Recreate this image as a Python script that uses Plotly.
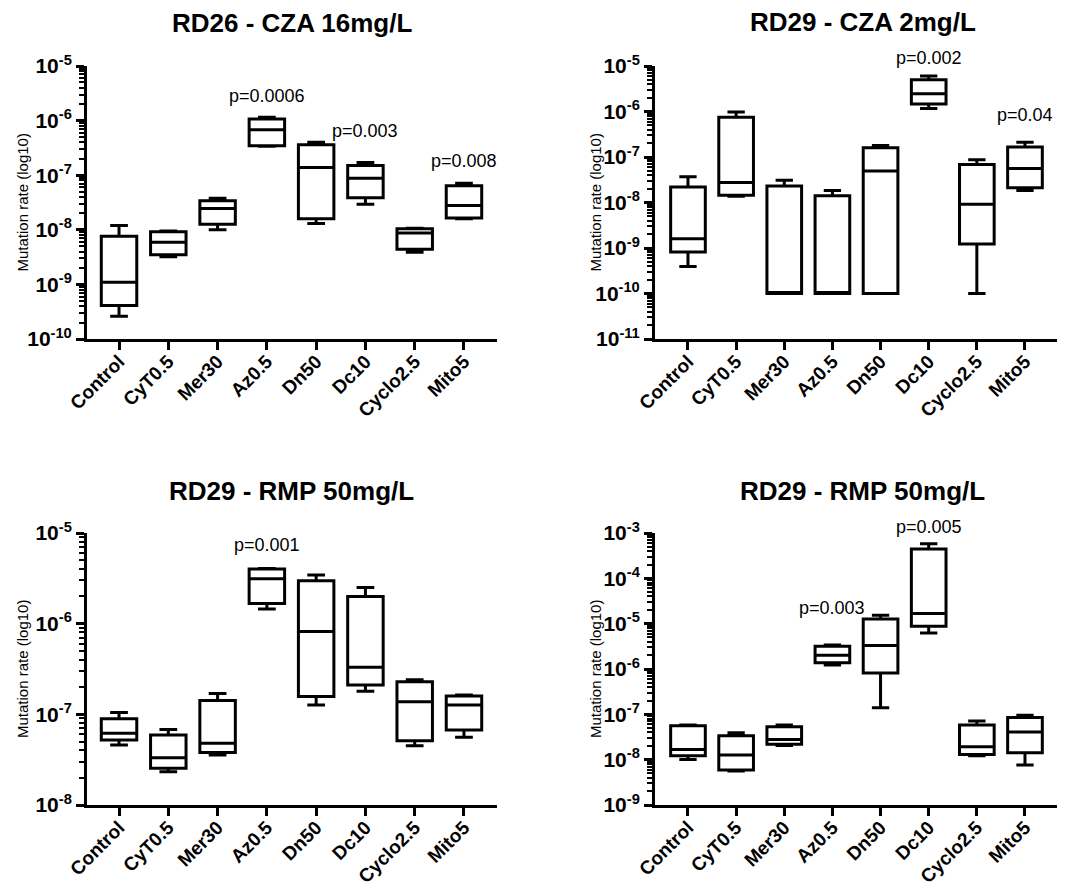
import math
import plotly.graph_objects as go

categories = ["Control", "CyT0.5", "Mer30", "Az0.5", "Dn50", "Dc10", "Cyclo2.5", "Mito5"]

# Panel A: RD26 - CZA 16mg/L
a_min = [2.6e-10, 3.2e-9, 1.0e-8, 3.4e-7, 1.3e-8, 2.95e-8, 3.9e-9, 1.6e-8]
a_q1 = [4.1e-10, 3.5e-9, 1.27e-8, 3.45e-7, 1.6e-8, 3.85e-8, 4.4e-9, 1.65e-8]
a_med = [1.1e-9, 5.9e-9, 2.45e-8, 6.8e-7, 1.38e-7, 8.8e-8, 8.7e-9, 2.8e-8]
a_q3 = [7.6e-9, 9.2e-9, 3.4e-8, 1.07e-6, 3.6e-7, 1.5e-7, 1.04e-8, 6.4e-8]
a_max = [1.2e-8, 9.5e-9, 3.8e-8, 1.15e-6, 4.0e-7, 1.7e-7, 1.07e-8, 7.1e-8]

# Panel B: RD29 - CZA 2mg/L
b_min = [3.9e-10, 1.38e-8, 1e-10, 1e-10, 1e-10, 1.16e-6, 1e-10, 1.83e-8]
b_q1 = [8.2e-10, 1.45e-8, 1e-10, 1e-10, 1e-10, 1.47e-6, 1.22e-9, 2.1e-8]
b_med = [1.6e-9, 2.74e-8, 1e-10, 1e-10, 4.9e-8, 2.44e-6, 9.2e-9, 5.6e-8]
b_q3 = [2.2e-8, 7.5e-7, 2.3e-8, 1.4e-8, 1.6e-7, 5.0e-6, 6.8e-8, 1.66e-7]
b_max = [3.7e-8, 9.7e-7, 3.1e-8, 1.83e-8, 1.78e-7, 6.0e-6, 8.7e-8, 2.1e-7]

# Panel C: RD29 - RMP 50mg/L
c_min = [4.6e-8, 2.33e-8, 3.55e-8, 1.45e-6, 1.27e-7, 1.8e-7, 4.5e-8, 5.6e-8]
c_q1 = [5.2e-8, 2.54e-8, 3.8e-8, 1.67e-6, 1.57e-7, 2.1e-7, 5.1e-8, 6.7e-8]
c_med = [6.2e-8, 3.33e-8, 4.8e-8, 3.13e-6, 8.2e-7, 3.3e-7, 1.38e-7, 1.27e-7]
c_q3 = [8.95e-8, 5.9e-8, 1.42e-7, 4.0e-6, 2.98e-6, 1.99e-6, 2.29e-7, 1.59e-7]
c_max = [1.05e-7, 6.8e-8, 1.7e-7, 4.05e-6, 3.44e-6, 2.5e-6, 2.4e-7, 1.63e-7]

# Panel D: RD29 - RMP 50mg/L
d_min = [1.01e-8, 5.6e-9, 2.06e-8, 1.23e-6, 1.39e-7, 6.25e-6, 1.22e-8, 7.6e-9]
d_q1 = [1.22e-8, 5.9e-9, 2.2e-8, 1.37e-6, 8.2e-7, 8.8e-6, 1.3e-8, 1.42e-8]
d_med = [1.68e-8, 1.26e-8, 2.79e-8, 2.0e-6, 3.3e-6, 1.67e-5, 1.93e-8, 4.1e-8]
d_q3 = [5.6e-8, 3.37e-8, 5.3e-8, 3.18e-6, 1.27e-5, 4.43e-4, 5.8e-8, 8.5e-8]
d_max = [5.8e-8, 3.9e-8, 5.85e-8, 3.4e-6, 1.53e-5, 5.8e-4, 7.1e-8, 9.6e-8]

titles = ["RD26 - CZA 16mg/L", "RD29 - CZA 2mg/L", "RD29 - RMP 50mg/L", "RD29 - RMP 50mg/L"]
y_exp_ranges = [(-10, -5), (-11, -5), (-8, -5), (-9, -3)]

# p-value labels: (text, category, label height in mutation-rate units)
a_p = [("p=0.0006", "Az0.5", 2.8e-6), ("p=0.003", "Dc10", 6.5e-7), ("p=0.008", "Mito5", 1.8e-7)]
b_p = [("p=0.002", "Dc10", 1.5e-5), ("p=0.04", "Mito5", 8.5e-7)]
c_p = [("p=0.001", "Az0.5", 7.4e-6)]
d_p = [("p=0.003", "Az0.5", 2.2e-5), ("p=0.005", "Dc10", 1.35e-3)]

panels = [
    (a_min, a_q1, a_med, a_q3, a_max, a_p),
    (b_min, b_q1, b_med, b_q3, b_max, b_p),
    (c_min, c_q1, c_med, c_q3, c_max, c_p),
    (d_min, d_q1, d_med, d_q3, d_max, d_p),
]

OFF = 8  # page body margin
W, H = 1073 - OFF, 888 - OFF
# pixel boxes of the plot areas in the window (left, right, top, bottom)
areas = [(87, 497, 66, 339), (655, 1057, 66, 339), (87, 497, 533, 805), (655, 1057, 533, 805)]
xranges = [(-0.65, 7.67), (-0.685, 7.665), (-0.65, 7.67), (-0.685, 7.665)]
title_pos = [(292, 23), (863, 22), (291, 491), (862, 491)]
ytitle_x = [22, 595, 22, 595]


def px(v):
    return (v - OFF) / W


def py(v):
    return 1 - (v - OFF) / H


FONT = "Liberation Sans, Arial, sans-serif"
fig = go.Figure()
annotations = []
layout = {}

for i, (mn, q1, med, q3, mx, pv) in enumerate(panels):
    n = "" if i == 0 else str(i + 1)
    xa, ya = "x" + n, "y" + n
    fig.add_trace(go.Box(
        x=categories, lowerfence=mn, q1=q1, median=med, q3=q3, upperfence=mx,
        xaxis=xa, yaxis=ya, boxpoints=False, width=0.72, whiskerwidth=0.5,
        line=dict(color="black", width=3), fillcolor="white", showlegend=False,
        hoverinfo="skip",
    ))
    l, r, t, b = areas[i]
    lo, hi = y_exp_ranges[i]
    tickvals = [10.0 ** e for e in range(lo, hi + 1)]
    ticktext = ["<b>10<sup>%d</sup></b>" % e for e in range(lo, hi + 1)]
    minor_vals = [k * 10.0 ** e for e in range(lo, hi) for k in range(2, 10)]
    layout["xaxis" + n] = dict(
        domain=[px(l), px(r)], anchor=ya, type="category", categoryorder="array",
        categoryarray=categories, range=list(xranges[i]), automargin=False,
        showline=True, linecolor="black", linewidth=3, ticks="outside", ticklen=8,
        tickwidth=3, tickcolor="black", tickangle=-45, showgrid=False, zeroline=False,
        tickfont=dict(family=FONT, size=19, color="black"),
        tickprefix="<b>", ticksuffix="</b>", ticklabelstandoff=-7,
    )
    layout["yaxis" + n] = dict(
        domain=[py(b), py(t)], anchor=xa, type="log", range=[lo, hi],
        automargin=False,
        showline=True, linecolor="black", linewidth=3, ticks="outside", ticklen=8,
        tickwidth=3, tickcolor="black", showgrid=False, zeroline=False,
        tickmode="array", tickvals=tickvals, ticktext=ticktext,
        tickfont=dict(family=FONT, size=21, color="black"),
        minor=dict(tickmode="array", tickvals=minor_vals, ticks="outside", ticklen=5,
                   tickwidth=2, tickcolor="black", showgrid=False),
    )
    tx, ty = title_pos[i]
    annotations.append(dict(
        text="<b>%s</b>" % titles[i], x=px(tx), y=py(ty), xref="paper", yref="paper",
        showarrow=False, xanchor="center", yanchor="middle",
        font=dict(family=FONT, size=26, color="black"),
    ))
    annotations.append(dict(
        text="Mutation rate (log10)", x=px(ytitle_x[i]), y=py((t + b) / 2),
        xref="paper", yref="paper", showarrow=False, textangle=-90,
        xanchor="center", yanchor="middle",
        font=dict(family=FONT, size=15, color="black"),
    ))
    for txt, cat, yv in pv:
        annotations.append(dict(
            text=txt, x=cat, y=(math.log10(yv) - lo) / (hi - lo),
            xref=xa, yref=ya + " domain", showarrow=False,
            xanchor="center", yanchor="middle",
            font=dict(family=FONT, size=18, color="black"),
        ))

fig.update_layout(
    width=W, height=H, margin=dict(l=0, r=0, t=0, b=0),
    paper_bgcolor="white", plot_bgcolor="white",
    annotations=annotations, **layout,
)
fig.write_html("out.html")
